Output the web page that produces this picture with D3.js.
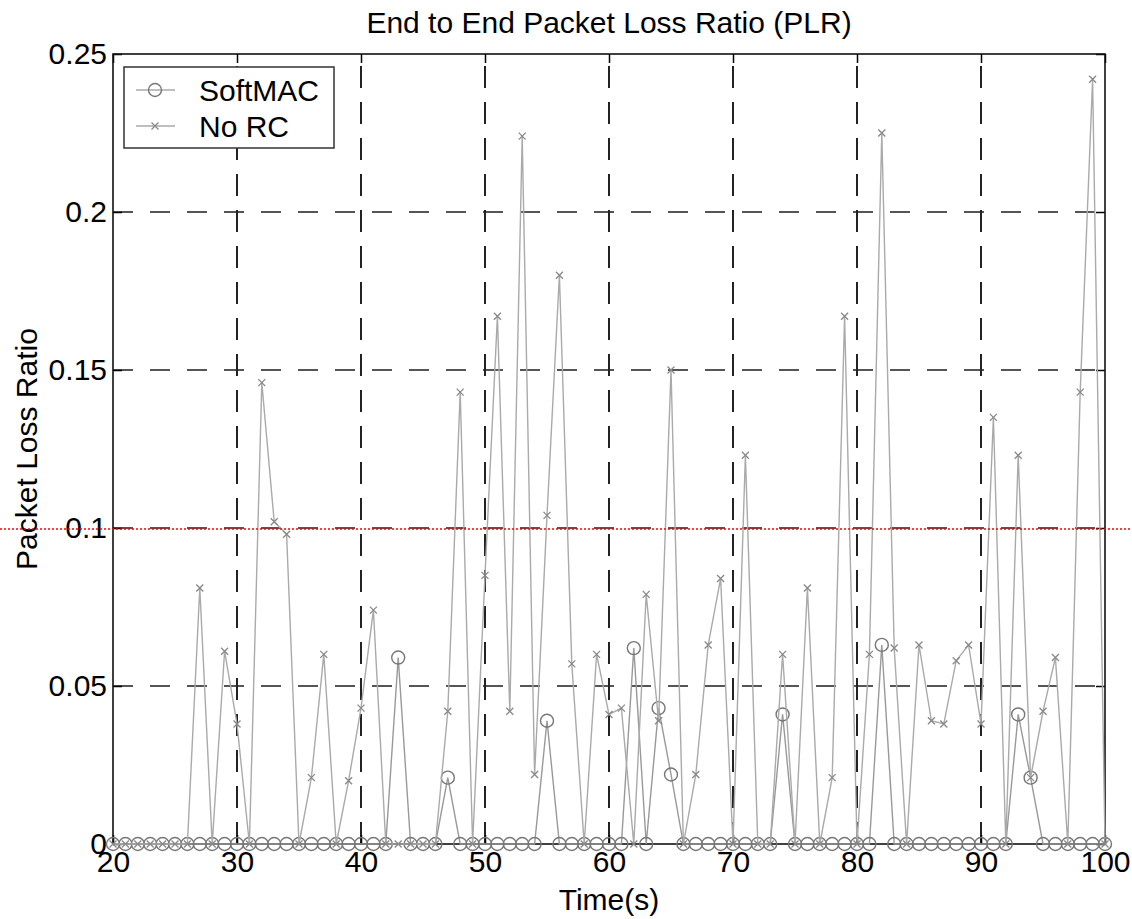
<!DOCTYPE html>
<html>
<head>
<meta charset="utf-8">
<script src="https://cdn.jsdelivr.net/npm/d3@7"></script>
<style>
  html, body { margin: 0; padding: 0; background: #fff; }
  svg { display: block; font-family: "Liberation Sans", Arial, sans-serif; }
</style>
</head>
<body>
<script>
// time axis, one sample per second
const times = d3.range(20, 101);

const softMAC = [
  0, 0, 0, 0, 0, 0, 0, 0, 0, 0,            // 20-29
  0, 0, 0, 0, 0, 0, 0, 0, 0, 0,            // 30-39
  0, 0, 0, 0.059, 0, 0, 0, 0.021, 0, 0,    // 40-49
  0, 0, 0, 0, 0, 0.039, 0, 0, 0, 0,        // 50-59
  0, 0, 0.062, 0, 0.043, 0.022, 0, 0, 0, 0, // 60-69
  0, 0, 0, 0, 0.041, 0, 0, 0, 0, 0,        // 70-79
  0, 0, 0.063, 0, 0, 0, 0, 0, 0, 0,        // 80-89
  0, 0, 0, 0.041, 0.021, 0, 0, 0, 0, 0,    // 90-99
  0                                        // 100
];

const noRC = [
  0, 0, 0, 0, 0, 0, 0, 0.081, 0, 0.061,                  // 20-29
  0.038, 0, 0.146, 0.102, 0.098, 0, 0.021, 0.060, 0, 0.020, // 30-39
  0.043, 0.074, 0, 0, 0, 0, 0, 0.042, 0.143, 0,          // 40-49
  0.085, 0.167, 0.042, 0.224, 0.022, 0.104, 0.180, 0.057, 0, 0.060, // 50-59
  0.041, 0.043, 0, 0.079, 0.039, 0.150, 0, 0.022, 0.063, 0.084,     // 60-69
  0, 0.123, 0, 0, 0.060, 0, 0.081, 0, 0.021, 0.167,      // 70-79
  0, 0.060, 0.225, 0.062, 0, 0.063, 0.039, 0.038, 0.058, 0.063,     // 80-89
  0.038, 0.135, 0, 0.123, 0.021, 0.042, 0.059, 0, 0.143, 0.242,     // 90-99
  0                                                      // 100
];

const xTicks = [20, 30, 40, 50, 60, 70, 80, 90, 100];
const yTicks = [0, 0.05, 0.1, 0.15, 0.2, 0.25];

const width = 1132, height = 919;
const margin = { top: 54, right: 27, bottom: 75, left: 113 };

const svg = d3.select('body').append('svg')
  .attr('width', width)
  .attr('height', height);

const x = d3.scaleLinear().domain([20, 100]).range([margin.left, width - margin.right]);
const y = d3.scaleLinear().domain([0, 0.25]).range([height - margin.bottom, margin.top]);

// dashed grid
svg.append('g')
  .selectAll('line')
  .data(yTicks.slice(1, -1))
  .join('line')
  .attr('x1', x(20)).attr('x2', x(100))
  .attr('y1', d => y(d)).attr('y2', d => y(d))
  .attr('stroke', '#555').attr('stroke-width', 2.2)
  .attr('stroke-dasharray', '20,17');

svg.append('g')
  .selectAll('line')
  .data(xTicks.slice(1, -1))
  .join('line')
  .attr('x1', d => x(d)).attr('x2', d => x(d))
  .attr('y1', y(0)).attr('y2', y(0.25))
  .attr('stroke', '#222').attr('stroke-width', 2)
  .attr('stroke-dasharray', '22,14');

// axes: ticks point inward, box all round
const fmt = d => d === 0 ? '0' : String(d);
const bottom = svg.append('g')
  .attr('transform', `translate(0,${y(0)})`)
  .call(d3.axisBottom(x).tickValues(xTicks).tickFormat(fmt).tickSize(-9).tickSizeOuter(0).tickPadding(7));
const left = svg.append('g')
  .attr('transform', `translate(${x(20)},0)`)
  .call(d3.axisLeft(y).tickValues(yTicks).tickFormat(fmt).tickSize(-9).tickSizeOuter(0).tickPadding(6));
svg.append('g')
  .attr('transform', `translate(0,${y(0.25)})`)
  .call(d3.axisTop(x).tickValues(xTicks).tickFormat('').tickSize(-9).tickSizeOuter(0));
svg.append('g')
  .attr('transform', `translate(${x(100)},0)`)
  .call(d3.axisRight(y).tickValues(yTicks).tickFormat('').tickSize(-9).tickSizeOuter(0));

svg.selectAll('.tick line').attr('stroke', '#000').attr('stroke-width', 1.5);
svg.selectAll('.domain').attr('stroke', 'none');
svg.selectAll('.tick text')
  .attr('font-size', 30)
  .attr('font-family', '"Liberation Sans", Arial, sans-serif')
  .attr('fill', '#000');

svg.append('rect')
  .attr('x', x(20)).attr('y', y(0.25))
  .attr('width', x(100) - x(20)).attr('height', y(0) - y(0.25))
  .attr('fill', 'none').attr('stroke', '#111').attr('stroke-width', 1.6);

// series
const pts = (vals) => times.map((t, i) => [t, vals[i]]);
const line = d3.line().x(d => x(d[0])).y(d => y(d[1]));

svg.append('path')
  .datum(pts(softMAC))
  .attr('d', line)
  .attr('fill', 'none').attr('stroke', '#999').attr('stroke-width', 1.4);

svg.append('g')
  .selectAll('circle')
  .data(pts(softMAC))
  .join('circle')
  .attr('cx', d => x(d[0])).attr('cy', d => y(d[1]))
  .attr('r', 6.5)
  .attr('fill', 'none').attr('stroke', '#777').attr('stroke-width', 1.4);

svg.append('path')
  .datum(pts(noRC))
  .attr('d', line)
  .attr('fill', 'none').attr('stroke', '#aaa').attr('stroke-width', 1.4);

const cross = 'M-3.5,-3.5L3.5,3.5M-3.5,3.5L3.5,-3.5';
svg.append('g')
  .selectAll('path')
  .data(pts(noRC))
  .join('path')
  .attr('transform', d => `translate(${x(d[0])},${y(d[1])})`)
  .attr('d', cross)
  .attr('fill', 'none').attr('stroke', '#888').attr('stroke-width', 1.3);

// legend
const lg = svg.append('g');
lg.append('rect')
  .attr('x', 124).attr('y', 67).attr('width', 210).attr('height', 81)
  .attr('fill', '#fff').attr('stroke', '#333').attr('stroke-width', 1.5);
const entries = [
  { name: 'SoftMAC', mark: 'circle', cy: 90 },
  { name: 'No RC', mark: 'cross', cy: 126 }
];
entries.forEach(e => {
  lg.append('line')
    .attr('x1', 136).attr('x2', 175).attr('y1', e.cy).attr('y2', e.cy)
    .attr('stroke', '#aaa').attr('stroke-width', 1.4);
  if (e.mark === 'circle') {
    lg.append('circle').attr('cx', 155).attr('cy', e.cy).attr('r', 6.5)
      .attr('fill', 'none').attr('stroke', '#777').attr('stroke-width', 1.4);
  } else {
    lg.append('path').attr('transform', `translate(155,${e.cy})`).attr('d', cross)
      .attr('fill', 'none').attr('stroke', '#888').attr('stroke-width', 1.3);
  }
  lg.append('text')
    .attr('x', 199).attr('y', e.cy).attr('dy', '0.35em')
    .attr('font-size', 30).attr('fill', '#000')
    .text(e.name);
});

// titles
svg.append('text')
  .attr('x', (x(20) + x(100)) / 2).attr('y', 33)
  .attr('text-anchor', 'middle').attr('font-size', 30)
  .text('End to End Packet Loss Ratio (PLR)');

svg.append('text')
  .attr('x', (x(20) + x(100)) / 2).attr('y', 910)
  .attr('text-anchor', 'middle').attr('font-size', 30)
  .text('Time(s)');

svg.append('text')
  .attr('transform', `translate(37,${(y(0) + y(0.25)) / 2}) rotate(-90)`)
  .attr('text-anchor', 'middle').attr('font-size', 30)
  .text('Packet Loss Ratio');

// red dotted marker line across the picture
svg.append('line')
  .attr('x1', 0).attr('x2', width).attr('y1', 529).attr('y2', 529)
  .attr('stroke', '#f00').attr('stroke-width', 1.5)
  .attr('stroke-dasharray', '2,2');
</script>
</body>
</html>
